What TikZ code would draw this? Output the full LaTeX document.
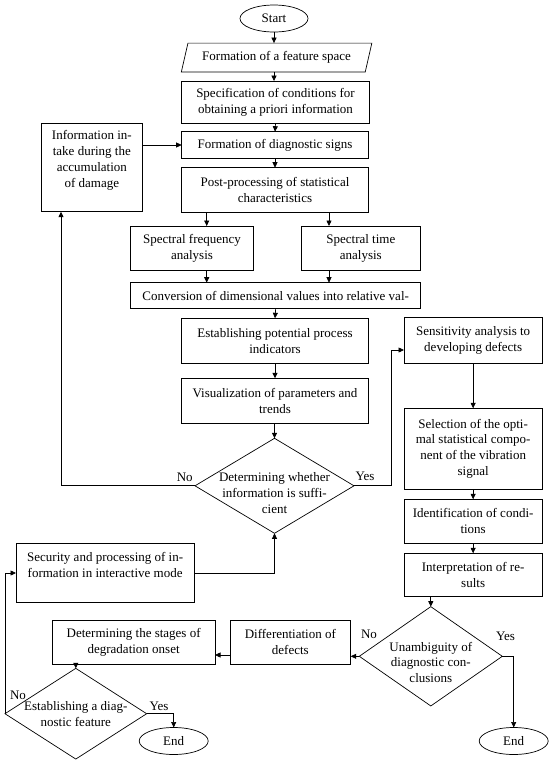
\documentclass[tikz,border=0pt]{standalone}
\usepackage{fontspec}
\setmainfont{Liberation Serif}
\usetikzlibrary{arrows.meta,shapes.geometric}
\tikzset{
  base/.style={line width=0.7pt},
  box/.style={base, draw, rectangle, align=center, inner sep=0pt, outer sep=0pt},
  term/.style={base, draw, ellipse, inner sep=0pt, outer sep=0pt},
  dec/.style={base, draw, diamond, inner sep=0pt, outer sep=0pt},
  txt/.style={align=center, inner sep=0pt},
  arr/.style={base, -{Triangle[length=5.5pt,width=5pt]}},
  ln/.style={base}
}
\begin{document}
\begin{tikzpicture}[x=1pt,y=-1pt, font=\fontsize{13}{15.8}\selectfont]
\useasboundingbox (0,0) rectangle (550,761);
% nodes
\node[term, minimum width=68pt, minimum height=27pt] (start) at (274,18.5) {Start};
\node[txt, minimum width=183.5pt, minimum height=28.4pt] (feat) at (276.6,57.5) {Formation of a feature space};
\draw[base] ([xshift=3.3pt]feat.north west) -- ([xshift=3.3pt]feat.north east) -- ([xshift=-3.3pt]feat.south east) -- ([xshift=-3.3pt]feat.south west) -- cycle;
\node[box, minimum width=187.6pt, minimum height=42.3pt] (spec) at (275.5,102.2) {Specification of conditions for\\obtaining a priori information};
\node[box, minimum width=186.6pt, minimum height=26.6pt] (sign) at (275,145) {Formation of diagnostic signs};
\node[box, minimum width=186.6pt, minimum height=45pt] (post) at (275,190.2) {Post-processing of statistical\\characteristics};
\node[box, minimum width=101.7pt, minimum height=88.4pt, label={[txt, yshift=7pt]center:Information in-\\take during the\\accumulation\\of damage}] (info) at (91.85,167.5) {};
\node[box, minimum width=122.6pt, minimum height=44.7pt] (sfreq) at (192,248.35) {Spectral frequency\\analysis};
\node[box, minimum width=119.7pt, minimum height=44.7pt] (stime) at (360.85,248.35) {Spectral time\\analysis};
\node[box, minimum width=290pt, minimum height=25.6pt] (conv) at (275.7,295.5) {Conversion of dimensional values into relative val-};
\node[box, minimum width=186.6pt, minimum height=45pt] (estab) at (275,340.8) {Establishing potential process\\indicators};
\node[box, minimum width=186.6pt, minimum height=45pt] (visu) at (275,400.8) {Visualization of parameters and\\trends};
\node[dec, minimum width=159pt, minimum height=95pt, label={[txt, yshift=-7.5pt]center:Determining whether\\information is suffi-\\cient}] (dec1) at (274.5,485.8) {};
\node[box, minimum width=138.3pt, minimum height=46pt] (sens) at (473.15,340.3) {Sensitivity analysis to\\developing defects};
\node[box, minimum width=138.3pt, minimum height=80.7pt] (sel) at (473.15,448.65) {Selection of the opti-\\mal statistical compo-\\nent of the vibration\\signal};
\node[box, minimum width=138.3pt, minimum height=44pt] (ident) at (473.15,521.3) {Identification of condi-\\tions};
\node[box, minimum width=138.3pt, minimum height=43.4pt] (interp) at (473.15,575) {Interpretation of re-\\sults};
\node[dec, minimum width=143pt, minimum height=99.3pt, label={[txt, yshift=-6pt]center:Unambiguity of\\diagnostic con-\\clusions}] (dec2) at (430.8,656.3) {};
\node[box, minimum width=120.7pt, minimum height=43.3pt] (diff) at (290.35,642.35) {Differentiation of\\defects};
\node[box, minimum width=162.7pt, minimum height=43.3pt] (stage) at (133.65,642.35) {Determining the stages of\\degradation onset};
\node[dec, minimum width=141.7pt, minimum height=90.7pt, label={[txt]center:Establishing a diag-\\nostic feature}] (dec3) at (75.8,713.7) {};
\node[term, minimum width=69pt, minimum height=27pt] (end1) at (173.7,741) {End};
\node[box, minimum width=178.3pt, minimum height=59.4pt, label={[txt, yshift=8.3pt]center:Security and processing of in-\\formation in interactive mode}] (secur) at (105.15,573) {};
\node[term, minimum width=69pt, minimum height=27pt] (end2) at (513.7,741) {End};
% branch labels
\node[txt] (no1) at (184.7,477.3) {No};
\node[txt] (yes1) at (365,476.7) {Yes};
\node[txt] (no2) at (369,634) {No};
\node[txt] (yes2) at (505.5,636) {Yes};
\node[txt] (no3) at (18,695) {No};
\node[txt] (yes3) at (159,706) {Yes};
% helper coordinates
\coordinate (xa) at (206.7,0);
\coordinate (xb) at (329,0);
\coordinate (xc) at (61,0);
\coordinate (xd) at (391,350);
\coordinate (ye) at (0,655);
% connectors
\draw[arr] (start.south) -- (start.south |- feat.north);
\draw[arr] (start.south |- feat.south) -- (start.south |- spec.north);
\draw[arr] (spec.south) -- (sign.north);
\draw[arr] (info.east |- sign.west) -- (sign.west);
\draw[arr] (sign.south) -- (post.north);
\draw[arr] (xa |- post.south) -- (xa |- sfreq.north);
\draw[arr] (xb |- post.south) -- (xb |- stime.north);
\draw[arr] (xa |- sfreq.south) -- (xa |- conv.north);
\draw[arr] (xb |- stime.south) -- (xb |- conv.north);
\draw[arr] (conv.south) -- (estab.north);
\draw[arr] (estab.south) -- (visu.north);
\draw[arr] (dec1.north |- visu.south) -- (dec1.north);
\draw[arr] (dec1.west) -- (xc |- dec1.west) -- (xc |- info.south);
\draw[arr] (dec1.east) -- (xd |- dec1.east) -- (xd) -- (xd -| sens.west);
\draw[arr] (sens.south) -- (sel.north);
\draw[arr] (sel.south) -- (ident.north);
\draw[arr] (ident.south) -- (interp.north);
\draw[arr] (dec2.north |- interp.south) -- (dec2.north);
\draw[arr] (dec2.west) -- (dec2.west -| diff.east);
\draw[arr] (diff.west |- ye) -- (stage.east |- ye);
\draw[arr] (dec3.north |- stage.south) -- (dec3.north);
\draw[arr] (dec3.west) |- (secur.west);
\draw[arr] (secur.east) -| (dec1.south);
\draw[arr] (dec3.east) -| (end1.north);
\draw[arr] (dec2.east) -| (end2.north);
\end{tikzpicture}
\end{document}
